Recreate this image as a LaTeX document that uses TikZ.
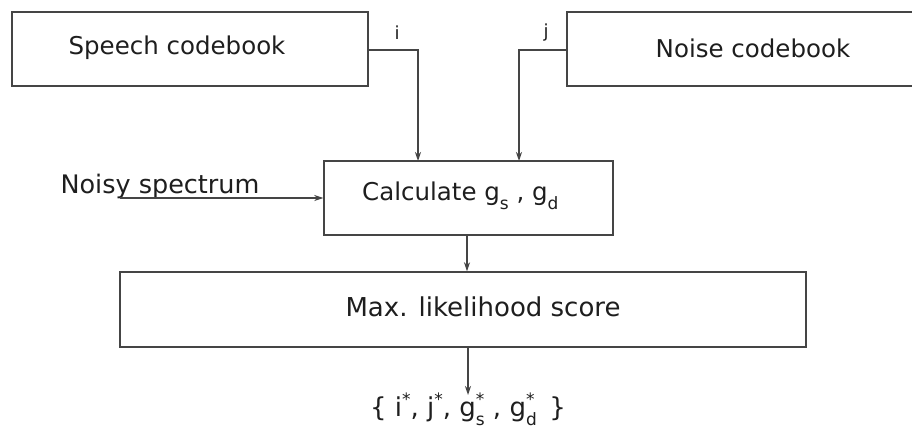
\documentclass[tikz,border=0pt]{standalone}
\usepackage{fontspec}
\setmainfont{DejaVu Sans}
\usetikzlibrary{arrows.meta}
\definecolor{ink}{HTML}{454545}
\definecolor{txt}{HTML}{1E1E1E}
% raised star over a lowered index, as in g^*_s
\newcommand{\starsub}[2]{#1\rlap{\raisebox{0.8ex}{\fontsize{17}{17}\selectfont *}}\raisebox{-0.6ex}{\fontsize{17}{17}\selectfont #2}}
\newcommand{\starred}[1]{#1\raisebox{0.8ex}{\fontsize{17}{17}\selectfont *}}
\newcommand{\lowidx}[2]{#1\raisebox{-0.7ex}{\fontsize{17}{17}\selectfont #2}}
\begin{document}
\begin{tikzpicture}[x=1pt,y=-1pt,
  blk/.style={draw=ink, line width=1.4pt, fill=white, inner sep=0pt},
  wire/.style={draw=ink, line width=1.3pt},
  arr/.style={wire, -{Stealth[length=9pt,width=6pt]}},
  lbl/.style={text=txt, inner sep=0pt, font=\fontsize{24.5}{28}\selectfont},
  small/.style={text=txt, inner sep=0pt, font=\fontsize{18}{20}\selectfont}]
\useasboundingbox (0,0) rectangle (912,431);
\fill[white] (0,0) rectangle (912,431);

% codebooks
\node[blk, minimum width=356pt, minimum height=74pt] (speech) at (190,49) {};
\node[blk, minimum width=372pt, minimum height=74pt] (noise) at (753,49) {};
\node[lbl] (speecht) at (177,48) {Speech codebook};
\node[lbl] (noiset) at (753,48) {Noise codebook};

% gain computation and scoring
\node[blk, minimum width=289pt, minimum height=74pt] (calc) at (468.5,198) {};
\node[lbl, anchor=west] (calct) at (362,196) {Calculate \lowidx{g}{s} , \lowidx{g}{d}};
\node[blk, minimum width=686pt, minimum height=75pt] (ml) at (463,309.5) {};
\node[lbl, font=\fontsize{26}{30}\selectfont] (mlt) at (483,307) {Max. likelihood score};

% labels and free ends
\node[lbl, font=\fontsize{25.5}{29}\selectfont] (noisy) at (160,186) {Noisy spectrum};
\node[small] (ilbl) at (397,33) {i};
\node[small] (jlbl) at (546,33) {j};
\coordinate (nin) at (120,198);
\node[lbl, font=\fontsize{26}{30}\selectfont] (out) at (468,409)
  {\{ \starred{i}, \starred{j}, \starsub{g}{s} , \starsub{g}{d}\, \}};

% connectors
\draw[arr] (speech.east |- 0,50) -| (418,161);
\draw[arr] (noise.west |- 0,50) -| (519,161);
\draw[arr] (nin) -- (calc.west);
\draw[arr] (calc.south -| 467,0) -- (ml.north -| 467,0);
\draw[arr] (ml.south -| 468,0) -- (468,395);
\end{tikzpicture}
\end{document}
